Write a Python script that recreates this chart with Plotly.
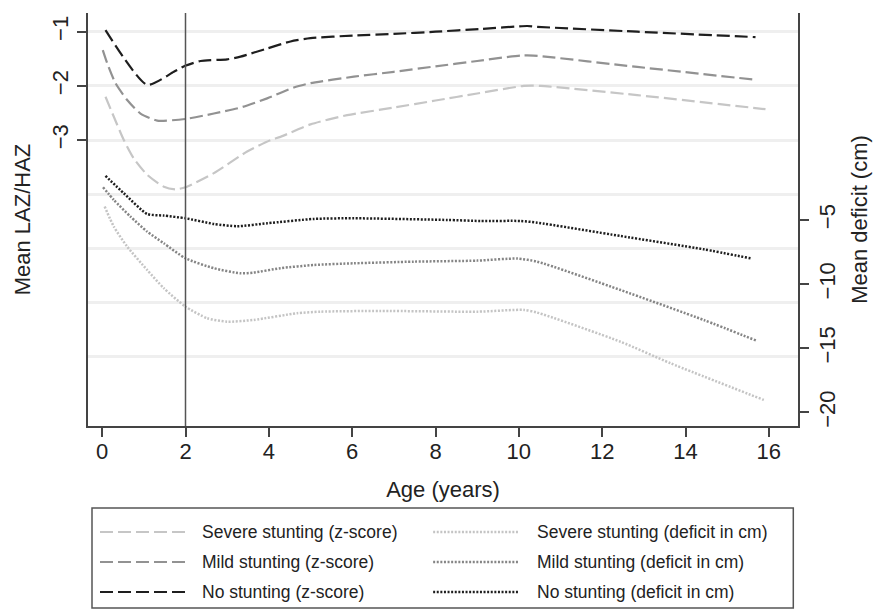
import plotly.graph_objects as go

# ---------------- data ----------------
# z-score series (left axis)
age_sz = [0.08, 0.28, 0.52, 0.76, 1.08, 1.48, 1.76, 2.0, 2.68, 3.48, 4.04, 4.28, 5.0, 5.88, 7.0, 8.0, 9.0, 10.12, 10.52, 12.84, 15.92]
val_sz = [-2.2, -2.57, -3.0, -3.34, -3.64, -3.86, -3.91, -3.87, -3.61, -3.21, -3.0, -2.94, -2.71, -2.54, -2.40, -2.27, -2.14, -2.0, -2.0, -2.17, -2.43]

age_mz = [0.015, 0.12, 0.32, 0.6, 0.92, 1.32, 1.99, 2.68, 3.32, 3.96, 4.6, 5.0, 6.04, 7.0, 8.0, 9.0, 10.04, 10.35, 12.84, 15.72]
val_mz = [-1.34, -1.58, -1.95, -2.26, -2.51, -2.64, -2.61, -2.51, -2.40, -2.23, -2.03, -1.95, -1.83, -1.74, -1.64, -1.54, -1.44, -1.44, -1.65, -1.89]

age_nz = [0.08, 1.08, 1.72, 1.99, 2.36, 3.0, 3.32, 3.96, 4.52, 5.0, 6.04, 7.0, 8.0, 9.08, 10.2, 10.44, 12.84, 15.68]
val_nz = [-0.97, -1.98, -1.74, -1.63, -1.54, -1.51, -1.46, -1.31, -1.18, -1.12, -1.07, -1.04, -1.00, -0.95, -0.895, -0.91, -1.0, -1.10]

# deficit series in cm (right axis)
age_sd = [0.06, 0.28, 0.6, 1.08, 1.48, 2.0, 2.52, 3.0, 3.64, 4.68, 5.24, 6.68, 9.0, 10.12, 10.44, 12.44, 13.64, 15.88]
val_sd = [-3.96, -5.52, -7.08, -8.9, -10.32, -11.76, -12.66, -12.93, -12.79, -12.27, -12.15, -12.09, -12.15, -12.01, -12.22, -14.49, -16.17, -19.03]

age_md = [0.02, 0.28, 0.68, 1.08, 1.48, 2.0, 2.68, 3.32, 3.64, 4.28, 5.08, 6.04, 7.48, 9.0, 9.96, 10.44, 12.44, 14.44, 15.72]
val_md = [-2.45, -3.44, -4.74, -5.91, -6.82, -7.99, -8.76, -9.16, -9.1, -8.76, -8.51, -8.38, -8.25, -8.17, -8.01, -8.25, -10.46, -12.8, -14.43]

age_nd = [0.08, 0.52, 1.08, 1.48, 2.0, 2.68, 3.24, 3.96, 5.08, 6.04, 8.28, 9.08, 10.04, 10.44, 12.44, 14.44, 15.56]
val_nd = [-1.57, -2.92, -4.53, -4.66, -4.87, -5.31, -5.49, -5.26, -4.92, -4.87, -5.0, -5.08, -5.08, -5.21, -6.25, -7.29, -7.99]

names = ["Severe stunting (z-score)", "Severe stunting (deficit in cm)",
         "Mild stunting (z-score)", "Mild stunting (deficit in cm)",
         "No stunting (z-score)", "No stunting (deficit in cm)"]

x_ticks = [0, 2, 4, 6, 8, 10, 12, 14, 16]
z_ticks = [-1, -2, -3]
z_grid_extra = [-4, -5, -6, -7]
cm_ticks = [-5, -10, -15, -20]

# ---------------- style ----------------
C_SEV, C_MILD, C_NO = "#c6c6c6", "#929292", "#1e1e1e"
DASH_Z = "13px,5px"
DASH_CM = "2px,1.6px"
FONT = "Liberation Sans, Arial, sans-serif"
AX = "#444444"

series = [
    (age_sz, val_sz, names[0], C_SEV, DASH_Z, "y"),
    (age_sd, val_sd, names[1], "#c4c4c4", DASH_CM, "y2"),
    (age_mz, val_mz, names[2], C_MILD, DASH_Z, "y"),
    (age_md, val_md, names[3], "#858585", DASH_CM, "y2"),
    (age_nz, val_nz, names[4], C_NO, DASH_Z, "y"),
    (age_nd, val_nd, names[5], C_NO, DASH_CM, "y2"),
]

fig = go.Figure()
for xs, ys, nm, col, dash, ax in series:
    fig.add_trace(go.Scatter(
        x=xs, y=ys, name=nm, mode="lines", yaxis=ax,
        line=dict(color=col, width=2.5 if ax == "y2" else 2.2, dash=dash, shape="spline", smoothing=0.6),
        showlegend=False, hoverinfo="x+y+name"))

# plot-area pixel geometry (for manual legend placement)
L, R, T, B = 88, 797.7, 13, 426
W, H = R - L, B - T
def px(x):
    return (x - L) / W
def py(y):
    return (B - y) / H

shapes = [
    dict(type="line", xref="x", yref="paper", x0=2, x1=2, y0=0, y1=1,
         line=dict(color="#555555", width=1.5), layer="above"),
    dict(type="rect", xref="paper", yref="paper", x0=px(92), x1=px(793), y0=py(608), y1=py(508),
         line=dict(color="#555555", width=1.5), fillcolor="rgba(0,0,0,0)"),
]
annotations = []
row_y = [532, 562, 592]
col_sample = [(100, 185), (433, 519)]
col_text = [200, 535]
for i, (xs, ys, nm, col, dash, ax) in enumerate(series):
    r, c = i // 2, i % 2
    yy = py(row_y[r])
    shapes.append(dict(type="line", xref="paper", yref="paper",
                       x0=px(col_sample[c][0]), x1=px(col_sample[c][1]), y0=yy, y1=yy,
                       line=dict(color=col, width=2.5 if ax == "y2" else 2.2, dash=dash)))
    annotations.append(dict(xref="paper", yref="paper", x=px(col_text[c]), y=yy,
                            text=nm, showarrow=False, xanchor="left", yanchor="middle",
                            font=dict(size=17.5, color="#222222", family=FONT)))

fig.update_layout(
    width=875, height=610,
    margin=dict(l=L, r=875 - R, t=T, b=610 - B, autoexpand=False),
    paper_bgcolor="white", plot_bgcolor="white",
    font=dict(family=FONT, size=22, color="#222222"),
    shapes=shapes, annotations=annotations,
    showlegend=False,
    xaxis=dict(range=[-0.34, 16.70], tickvals=x_ticks, ticks="outside", ticklen=9, tickwidth=1.5,
               tickcolor=AX, showline=True, linecolor=AX, linewidth=1.5, showgrid=False, zeroline=False,
               tickfont=dict(size=22), ticklabelstandoff=-4,
               title=dict(text="Age (years)", font=dict(size=22), standoff=18)),
    yaxis=dict(range=[-8.275, -0.655], tickvals=z_ticks, ticks="outside", ticklen=9, tickwidth=1.5,
               tickcolor=AX, showline=True, linecolor=AX, linewidth=1.5, zeroline=False,
               showgrid=True, gridcolor="#efefef", gridwidth=2.5, tickangle=-90,
               minor=dict(tickvals=z_grid_extra, showgrid=True, gridcolor="#efefef", gridwidth=2.5, ticks=""),
               tickfont=dict(size=22),
               title=dict(text="Mean LAZ/HAZ", font=dict(size=22), standoff=12)),
    yaxis2=dict(range=[-21.06, 11.13], overlaying="y", side="right", tickvals=cm_ticks,
                ticks="outside", ticklen=9, tickwidth=1.5, tickcolor=AX, showline=True,
                linecolor=AX, linewidth=1.5, zeroline=False, showgrid=False, tickangle=-90,
                tickfont=dict(size=22),
                title=dict(text="Mean deficit (cm)", font=dict(size=22), standoff=12)),
)

fig.write_html("out.html", config={"displayModeBar": False},
               post_script="document.body.style.margin='0';")
